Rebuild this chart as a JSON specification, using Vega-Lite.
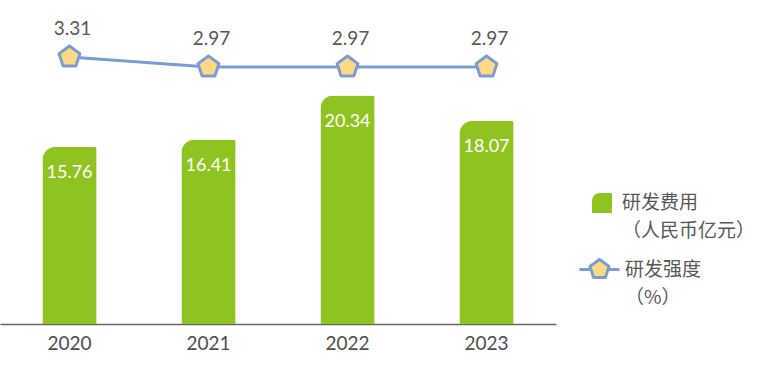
{
  "$schema": "https://vega.github.io/schema/vega-lite/v6.json",
  "width": 556,
  "height": 324,
  "padding": 0,
  "autosize": {"type": "pad"},
  "config": {
    "view": {"stroke": null},
    "font": "Lato, Noto Sans CJK SC",
    "legend": {"padding": 0}
  },
  "data": {
    "values": [
      {"year": "2020", "cost": 15.76, "ratio": 3.31, "s1": "研发费用", "s2": "研发强度"},
      {"year": "2021", "cost": 16.41, "ratio": 2.97, "s1": "研发费用", "s2": "研发强度"},
      {"year": "2022", "cost": 20.34, "ratio": 2.97, "s1": "研发费用", "s2": "研发强度"},
      {"year": "2023", "cost": 18.07, "ratio": 2.97, "s1": "研发费用", "s2": "研发强度"}
    ]
  },
  "encoding": {
    "x": {
      "field": "year",
      "type": "nominal",
      "scale": {"paddingInner": 0.61, "paddingOuter": 0.305},
      "axis": {
        "title": null,
        "labelAngle": 0,
        "ticks": false,
        "labelFontSize": 19,
        "labelColor": "#4d4d4d",
        "labelPadding": 10,
        "domainColor": "#666666",
        "domainWidth": 1.5,
        "labelFont": "Lato"
      }
    }
  },
  "layer": [
    {
      "encoding": {
        "y": {"field": "cost", "type": "quantitative", "scale": {"domain": [0, 28.85]}, "axis": null}
      },
      "layer": [
        {
          "mark": {"type": "bar", "cornerRadiusTopLeft": 13, "cornerRadiusTopRight": 2},
          "encoding": {
            "fill": {
              "field": "s1",
              "type": "nominal",
              "scale": {"range": ["#8FC31F"]},
              "legend": {
                "orient": "none",
                "legendX": 592,
                "legendY": 193,
                "title": null,
                "symbolType": "M-1,1 L-1,-0.2 A0.8,0.8 0 0 1 -0.2,-1 L0.85,-1 A0.15,0.15 0 0 1 1,-0.85 L1,1 Z",
                "symbolSize": 400,
                "symbolStrokeWidth": 0,
                "labelExpr": "['研发费用', '（人民币亿元）']",
                "labelFontSize": 19,
                "labelColor": "#595757",
                "labelFont": "Noto Sans CJK SC",
                "labelLimit": 300,
                "labelOffset": 10,
                "encode": {"labels": {"update": {"lineHeight": {"value": 28}}}}
              }
            }
          }
        },
        {
          "mark": {"type": "text", "baseline": "middle", "dy": 26, "fontSize": 18, "color": "white", "font": "Lato"},
          "encoding": {"text": {"field": "cost", "type": "quantitative", "format": ".2f"}}
        }
      ]
    },
    {
      "encoding": {
        "y": {"field": "ratio", "type": "quantitative", "scale": {"domain": [-5.77, 5.25]}, "axis": null}
      },
      "layer": [
        {
          "mark": {"type": "line", "strokeWidth": 3},
          "encoding": {
            "stroke": {
              "field": "s2",
              "type": "nominal",
              "scale": {"range": ["#7B9BD4"]},
              "legend": {
                "orient": "none",
                "legendX": 578,
                "legendY": 248,
                "title": null,
                "symbolType": "M-1,0 L-0.43,0 M0.43,0 L1,0 M0,-0.5 L0.476,-0.155 L0.294,0.405 L-0.294,0.405 L-0.476,-0.155 Z",
                "symbolSize": 1600,
                "symbolStrokeWidth": 3,
                "symbolFillColor": "#FDD985",
                "labelExpr": "['研发强度', '（%）']",
                "labelFontSize": 19,
                "labelColor": "#595757",
                "labelFont": "Noto Sans CJK SC",
                "labelLimit": 300,
                "labelOffset": 4,
                "encode": {
                  "labels": {"update": {"lineHeight": {"value": 28}}},
                  "symbols": {"update": {"fill": {"value": "#FDD985"}, "stroke": {"value": "#7B9BD4"}, "strokeJoin": {"value": "round"}}}
                }
              }
            }
          }
        },
        {
          "mark": {
            "type": "point",
            "shape": "M0,-1 L0.951,-0.309 L0.588,0.809 L-0.588,0.809 L-0.951,-0.309 Z",
            "filled": true,
            "fill": "#FDD985",
            "stroke": "#7B9BD4",
            "strokeWidth": 3,
            "strokeJoin": "round",
            "size": 480,
            "opacity": 1
          }
        },
        {
          "mark": {"type": "text", "baseline": "middle", "dy": -28, "dx": 3, "fontSize": 19, "color": "#595757", "font": "Lato"},
          "encoding": {"text": {"field": "ratio", "type": "quantitative", "format": ".2f"}}
        }
      ]
    }
  ],
  "resolve": {"scale": {"y": "independent"}}
}
